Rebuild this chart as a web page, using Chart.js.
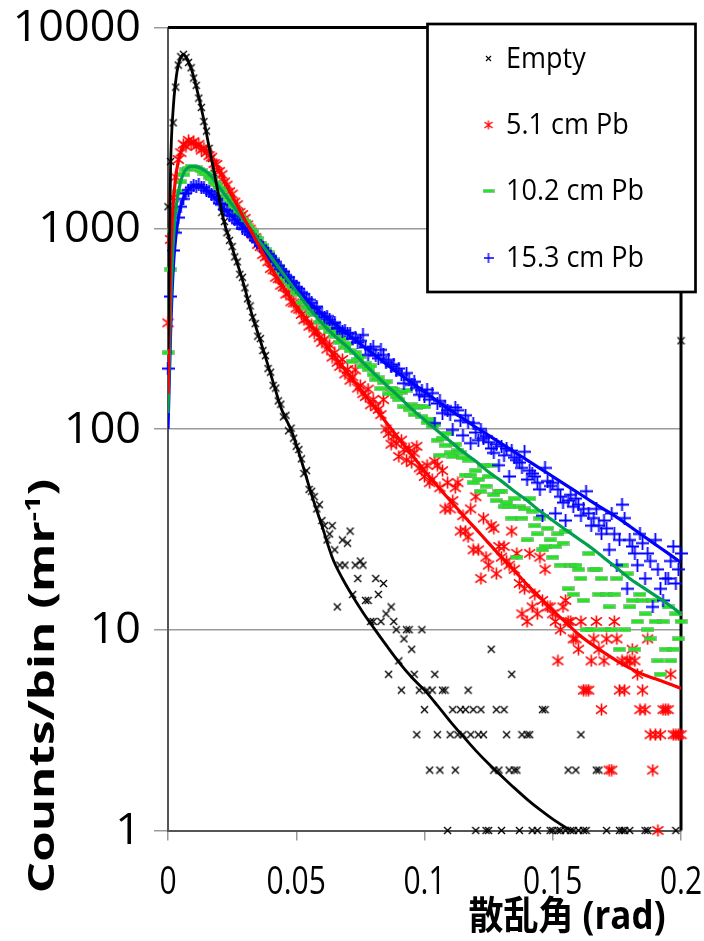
<!DOCTYPE html>
<html>
<head>
<meta charset="utf-8">
<script src="https://cdn.jsdelivr.net/npm/chart.js@4.4.1/dist/chart.umd.min.js"></script>
<style>
  html, body { margin: 0; padding: 0; background: #fff; }
  canvas { display: block; }
</style>
</head>
<body>
<canvas id="chart" width="704" height="941" style="width:704px;height:941px"></canvas>
<script>
// counts per 1 mrad bin, index = angle in mrad (0 .. 200); null = empty bin
const binWidth = 0.001;

const emptyCounts = [
  1280, 2150, 3350, 5050, 6500, 7150, 7350, 7100, 6700, 6300,
  5600, 5150, 4450, 4000, 3400, 3050, 2500, 2230, 1880, 1660,
  1420, 1200, 1080, 950, 870, 810, 720, 680, 590, 570,
  505, 445, 410, 360, 335, 290, 282, 246, 232, 200,
  192, 165, 160, 138, 133, 115, 117, 98, 101, 90,
  82, 79, 71, 60, 62, 50, 49, 46, 40, 42,
  35, 33, 28, 30, 33, 25, 13, 21, 28, 21,
  27, 31, 15, 21, 18, 22, 21, 14, 14, 11,
  11, 18, 15, 11, 17, 12, 6, 13, 11, 10,
  7, 5, 9, 10, 10, 8, 6, 3, 5, 10,
  4, 5, 2, 5, 6, 3, 2, 5, 5, 1,
  3, 4, 2, 3, 4, 3, 4, 5, 3, 4,
  1, 3, 4, 3, 1, 1, 8, 2, 4, 2,
  1, 4, 3, 2, 6, 2, 2, 1, 3, null,
  3, 3, 1, null, 1, null, 4, 4, null, 1,
  1, null, 1, 1, null, 1, 2, 1, 1, 2,
  1, 3, 1, 1, null, null, null, 2, 2, null,
  null, 1, null, null, null, null, 1, 1, 1, null,
  1, null, null, null, null, null, 1, 1, null, null,
  null, null, null, null, null, null, null, null, 1, null,
  275
];

const pb51Counts = [
  338, 880, 1420, 1800, 2200, 2380, 2620, 2560, 2740, 2650,
  2700, 2560, 2620, 2450, 2510, 2380, 2300, 2260, 2100, 2080,
  1920, 1850, 1700, 1640, 1520, 1480, 1350, 1310, 1200, 1170,
  1120, 1040, 990, 930, 900, 830, 810, 740, 720, 680,
  630, 620, 570, 560, 520, 510, 470, 475, 430, 425,
  400, 395, 372, 350, 355, 325, 330, 300, 310, 285,
  270, 280, 250, 262, 228, 240, 215, 205, 222, 188,
  198, 175, 182, 197, 160, 165, 150, 145, 158, 132,
  140, 129, 125, 118, 140, 100, 95, 84, 92, 85,
  73, 88, 79, 70, 80, 68, 76, 82, 64, 62,
  58, 66, 54, 56, 69, 66, 51, 62, 40, 54,
  40, 44, 51, 54, 31, 37, 31, 29, 40, 25,
  46, 25, 18, 36, 23, 21, 33, 32, 19, 26,
  23, 26, 22, 21, 31, 20, 24, 17, 12, 16,
  11, 24, 13, 15, 12, 23, 14, 20, 13, 13,
  12, 11, 7, 10, 13, 14, 11, 11, 9, 9,
  8, 11, 5, 5, 5, 7, 9, 11, 8, 4,
  7, 9, 2, 2, 11, 9, 5, 7, 5, 7,
  7, 8, 7, 6, 4, 5, 4, 9, 3, 2,
  3, 1, 3, 4, 4, 4, 6, 3, 3, 3,
  3
];

const pb102Counts = [
  240, 626, 977, 1250, 1520, 1700, 1850, 1960, 1980, 2040,
  2010, 2000, 1960, 1940, 1880, 1870, 1800, 1760, 1690, 1650,
  1580, 1540, 1450, 1420, 1350, 1300, 1250, 1200, 1150, 1110,
  1080, 1030, 990, 960, 910, 890, 840, 820, 780, 760,
  720, 700, 660, 645, 610, 590, 560, 545, 520, 505,
  480, 470, 424, 430, 400, 405, 380, 370, 378, 340,
  345, 320, 336, 305, 312, 290, 300, 270, 282, 255,
  267, 245, 217, 240, 222, 230, 205, 213, 198, 206,
  186, 176, 180, 159, 170, 172, 150, 160, 157, 145,
  140, 152, 129, 156, 125, 132, 118, 128, 129, 115,
  129, 108, 112, 103, 105, 88, 74, 90, 83, 95,
  76, 73, 84, 78, 76, 72, 59, 70, 59, 54,
  62, 56, 49, 66, 52, 58, 66, 47, 44, 49,
  49, 41, 43, 41, 36, 45, 23, 41, 36, 40,
  28, 45, 39, 33, 30, 36, 25, 26, 32, 28,
  23, 26, 30, 21, 27, 31, 16, 21, 15, 21,
  20, 18, 14, 10, 24, 10, 20, 20, 15, 18,
  10, 15, 13, 10, 15, 18, 8, 21, 10, 19,
  13, 14, 8, 11, 15, 14, 12, 10, 9, 14,
  11, 7, 6, 11, 8, 13, 7, 8, 12, 9,
  11
];

const pb153Counts = [
  200, 457, 775, 950, 1130, 1280, 1400, 1490, 1550, 1600,
  1640, 1620, 1650, 1590, 1600, 1540, 1520, 1480, 1440, 1400,
  1330, 1310, 1240, 1220, 1160, 1150, 1100, 1060, 1050, 1000,
  990, 960, 930, 910, 870, 850, 820, 800, 770, 745,
  720, 695, 680, 650, 625, 610, 585, 570, 545, 535,
  510, 500, 480, 470, 445, 440, 425, 400, 407, 375,
  378, 360, 365, 350, 335, 340, 318, 318, 305, 310,
  300, 300, 282, 285, 270, 275, 294, 255, 234, 250,
  257, 232, 225, 248, 234, 215, 221, 205, 210, 195,
  200, 186, 169, 190, 176, 166, 172, 160, 148, 156,
  145, 157, 140, 151, 107, 134, 138, 120, 130, 124,
  118, 99, 128, 124, 110, 93, 117, 108, 85, 107,
  96, 88, 100, 90, 92, 86, 80, 76, 84, 66,
  82, 74, 80, 58, 78, 72, 70, 68, 64, 77,
  56, 62, 60, 58, 54, 50, 37, 64, 55, 52,
  54, 38, 50, 46, 43, 35, 44, 47, 41, 45,
  42, 37, 40, 49, 38, 33, 36, 40, 33, 30,
  35, 32, 25, 38, 30, 21, 28, 42, 36, 16,
  28, 26, 24, 21, 30, 27, 18, 24, 22, 13,
  28, 20, 16, 14, 18, 18, 22, 26, 17, 20,
  24
];

// fitted curves (x in mrad)
const emptyFitX = [0, 1, 2, 3, 4, 5, 6, 7, 8, 9, 10, 12, 14, 16, 18, 20, 22, 24, 26, 28,
  30, 32, 34, 36, 38, 40, 42, 44, 46, 48, 52, 56, 60, 64, 68, 72, 76, 80, 85, 90,
  95, 100, 105, 110, 115, 120, 125, 130, 135, 140, 145, 150, 157, 165, 180, 200];
const emptyFitY = [250, 2000, 3900, 5400, 6500, 7100, 7300, 7150, 6750, 6250, 5700, 4500, 3450, 2550, 1900, 1400, 1060, 880, 730, 610,
  500, 400, 330, 275, 228, 188, 155, 128, 112, 99, 69.5, 47, 33, 23, 18, 14.7, 12.2, 10.3, 8.4, 6.9,
  5.8, 5.0, 4.2, 3.5, 2.95, 2.5, 2.15, 1.87, 1.63, 1.43, 1.27, 1.14, 1.0, 0.87, 0.67, 0.47];

const pbFitX = [0, 1, 2, 3, 4, 5, 6, 7, 8, 9, 10,
  12, 14, 16, 18, 20, 22, 24, 26, 28, 30, 32, 34, 36, 38, 40, 42, 44, 46, 48, 50,
  55, 60, 65, 70, 75, 80, 85, 90, 95, 100, 105, 110, 115, 120, 125, 130, 135, 140, 145, 150,
  155, 160, 165, 170, 175, 180, 185, 190, 195, 200];
const pb51FitY = [150, 700, 1300, 1800, 2150, 2400, 2580, 2670, 2700, 2690, 2670,
  2600, 2480, 2340, 2160, 1950, 1720, 1530, 1370, 1230, 1100, 990, 885, 794, 713, 643, 582, 530, 484, 445, 409,
  337, 278, 230, 190, 158, 131, 108, 89.5, 74.5, 62, 52, 44, 37.3, 31.8, 27, 23, 19.7, 16.8, 14.5, 12.5,
  10.9, 9.5, 8.5, 7.7, 7.0, 6.45, 6.0, 5.7, 5.4, 5.1];
const pb102FitY = [120, 400, 820, 1220, 1500, 1720, 1870, 1960, 2010, 2030, 2030,
  2010, 1950, 1860, 1740, 1600, 1480, 1365, 1260, 1160, 1075, 1000, 923, 851, 785, 724, 668, 617, 569, 525, 485,
  400, 337, 290, 256, 221, 191, 166, 145, 126, 111, 98, 87, 77, 69, 61, 55, 49, 44, 39, 35,
  31.5, 28.4, 25.6, 22.8, 20.3, 18, 16.3, 14.8, 13.4, 12];
const pb153FitY = [100, 300, 620, 900, 1120, 1290, 1410, 1500, 1560, 1600, 1620,
  1635, 1585, 1514, 1429, 1334, 1245, 1175, 1109, 1047, 1000, 933, 873, 815, 762, 711, 664, 621, 580, 542, 507,
  429, 376, 333, 297, 265, 237, 211, 189, 170, 153, 138, 124, 113, 102, 93, 84.5, 77, 70, 63.7, 58,
  52.7, 48, 43.6, 39.8, 36.3, 32.8, 29.5, 26.6, 24, 21.6];

const seriesNames = ['Empty', '5.1 cm Pb', '10.2 cm Pb', '15.3 cm Pb'];
const xTickValues = [0, 0.05, 0.1, 0.15, 0.2];
const xTickLabels = ['0', '0.05', '0.1', '0.15', '0.2'];
const yTickValues = [1, 10, 100, 1000, 10000];
const yTickLabels = ['1', '10', '100', '1000', '10000'];
const xTitle = '散乱角 (rad)';
const yTitle = 'Counts/bin (mr';
const yTitleSup = '-1';

function toPoints(counts) {
  const pts = [];
  counts.forEach((c, i) => {
    if (c !== null) pts.push({ x: i * binWidth, y: c });
  });
  return pts;
}

function fitPoints(xs, ys) {
  return xs.map((x, i) => ({ x: x / 1000, y: ys[i] }));
}

// marker images
function marker(w, h, draw) {
  const c = document.createElement('canvas');
  c.width = w; c.height = h;
  draw(c.getContext('2d'), w, h);
  return c;
}
function xMark(size, color, lw) {
  return marker(size, size, (g, w) => {
    g.strokeStyle = color; g.lineWidth = lw;
    g.beginPath();
    g.moveTo(1, 1); g.lineTo(w - 1, w - 1);
    g.moveTo(w - 1, 1); g.lineTo(1, w - 1);
    g.stroke();
  });
}
function starMark(size, color, lw) {
  return marker(size, size, (g, w) => {
    const m = w / 2, d = m - 1;
    g.strokeStyle = color; g.lineWidth = lw;
    g.beginPath();
    g.moveTo(m - d, m - d * 0.75); g.lineTo(m + d, m + d * 0.75);
    g.moveTo(m + d, m - d * 0.75); g.lineTo(m - d, m + d * 0.75);
    g.moveTo(m, 0.5); g.lineTo(m, w - 0.5);
    g.stroke();
  });
}
function dashMark(w, h, color) {
  return marker(w, h, (g) => {
    g.fillStyle = 'rgba(110,150,110,0.6)';
    g.fillRect(0, 0, w, h);
    g.fillStyle = color;
    g.fillRect(0.8, 0.8, w - 1.6, h - 1.6);
  });
}
function plusMark(size, color, lw) {
  return marker(size, size, (g, w) => {
    const m = w / 2;
    g.strokeStyle = color; g.lineWidth = lw;
    g.beginPath();
    g.moveTo(0, m); g.lineTo(w, m);
    g.moveTo(m, 0); g.lineTo(m, w);
    g.stroke();
  });
}

const lineColors = ['#000000', '#ff0000', '#00a050', '#0000ff'];
const markers = [xMark(9, '#000', 1.4), starMark(13, '#ff0000', 1.6), dashMark(13, 5, '#22e622'), plusMark(13, '#0000ff', 1.8)];
const legendMarkers = [xMark(7, '#000', 1.1), starMark(10, '#ff0000', 1.3), dashMark(12, 4, '#22e622'), plusMark(10, '#0000ff', 1.4)];

const countSets = [emptyCounts, pb51Counts, pb102Counts, pb153Counts];
const fitSets = [[emptyFitX, emptyFitY], [pbFitX, pb51FitY], [pbFitX, pb102FitY], [pbFitX, pb153FitY]];

const datasets = [];
fitSets.forEach((f, k) => {
  datasets.push({
    label: seriesNames[k] + ' fit',
    data: fitPoints(f[0], f[1]),
    showLine: true,
    borderColor: lineColors[k],
    borderWidth: k === 0 ? 2.8 : 3.2,
    pointRadius: 0,
    cubicInterpolationMode: 'monotone',
    order: 0
  });
});
countSets.forEach((c, k) => {
  datasets.push({
    label: seriesNames[k],
    data: toPoints(c),
    pointStyle: markers[k],
    pointRadius: 6,
    showLine: false,
    clip: false,
    order: 4 - k
  });
});

function stretchText(ctx, text, x, y, font, align, sx, sy) {
  ctx.save();
  ctx.translate(x, y);
  ctx.scale(sx, sy);
  ctx.font = font;
  ctx.textAlign = align;
  ctx.textBaseline = 'middle';
  ctx.fillStyle = '#000';
  ctx.fillText(text, 0, 0);
  ctx.restore();
}

const chartDecor = {
  id: 'chartDecor',
  beforeDatasetsDraw(chart) {
    const { ctx, chartArea: a } = chart;
    ctx.save();
    ctx.strokeStyle = '#000';
    ctx.lineWidth = 3;
    ctx.beginPath();
    ctx.moveTo(a.left, a.top);
    ctx.lineTo(a.right, a.top);
    ctx.lineTo(a.right, a.bottom);
    ctx.stroke();
    ctx.restore();
  },
  afterDraw(chart) {
    const { ctx } = chart;
    const xs = chart.scales.x, ys = chart.scales.y;

    // tick labels
    yTickValues.forEach((v, i) => {
      stretchText(ctx, yTickLabels[i], 141, ys.getPixelForValue(v) + 1, '44px "Open Sans"', 'right', 1.02, 1);
    });
    xTickValues.forEach((v, i) => {
      stretchText(ctx, xTickLabels[i], xs.getPixelForValue(v), 883, '30px "Open Sans"', 'center', 1, 1.25);
    });

    // axis titles
    stretchText(ctx, xTitle, 567, 918, 'bold 35px "Open Sans", "Noto Sans CJK JP"', 'center', 1, 1.1);

    ctx.save();
    ctx.translate(44, 686);
    ctx.rotate(-Math.PI / 2);
    ctx.scale(1.37, 1);
    ctx.fillStyle = '#000';
    ctx.textBaseline = 'middle';
    ctx.font = 'bold 36px "Open Sans"';
    const w1 = ctx.measureText(yTitle).width;
    ctx.font = 'bold 21px "Open Sans"';
    const w2 = ctx.measureText(yTitleSup).width;
    ctx.font = 'bold 36px "Open Sans"';
    const w3 = ctx.measureText(')').width;
    const x0 = -(w1 + w2 + w3) / 2;
    ctx.textAlign = 'left';
    ctx.fillText(yTitle, x0, 0);
    ctx.font = 'bold 21px "Open Sans"';
    ctx.fillText(yTitleSup, x0 + w1, -10);
    ctx.font = 'bold 36px "Open Sans"';
    ctx.fillText(')', x0 + w1 + w2, 0);
    ctx.restore();

    // legend box
    ctx.save();
    ctx.fillStyle = '#fff';
    ctx.strokeStyle = '#000';
    ctx.lineWidth = 2.7;
    ctx.fillRect(427.5, 24, 268, 268);
    ctx.strokeRect(427.5, 24, 268, 268);
    const rows = [58.5, 125, 191, 258];
    seriesNames.forEach((name, k) => {
      const m = legendMarkers[k];
      ctx.drawImage(m, 488.5 - m.width / 2, rows[k] - m.height / 2);
      stretchText(ctx, name, 506, rows[k] + 1, '27px "Open Sans"', 'left', 1, 1.1);
    });
    ctx.restore();
  }
};

new Chart(document.getElementById('chart').getContext('2d'), {
  type: 'scatter',
  data: { datasets },
  options: {
    responsive: false,
    animation: false,
    events: [],
    layout: { padding: { top: 27.5, right: 23, left: 0, bottom: 0 } },
    plugins: { legend: { display: false }, tooltip: { enabled: false } },
    scales: {
      x: {
        type: 'linear',
        min: 0,
        max: 0.2,
        afterBuildTicks(s) { s.ticks = xTickValues.map(v => ({ value: v })); },
        afterFit(s) { s.height = 110.5; },
        ticks: { display: false },
        grid: { drawOnChartArea: false, tickLength: 10, color: '#9a9a9a', lineWidth: 1.5 },
        border: { color: '#555', width: 2 }
      },
      y: {
        type: 'logarithmic',
        min: 1,
        max: 10000,
        afterBuildTicks(s) { s.ticks = yTickValues.map(v => ({ value: v })); },
        afterFit(s) { s.width = 168; },
        ticks: { display: false },
        grid: { tickLength: 14, color: '#9a9a9a', lineWidth: 1.5 },
        border: { color: '#555', width: 2 }
      }
    }
  },
  plugins: [chartDecor]
});
</script>
</body>
</html>
